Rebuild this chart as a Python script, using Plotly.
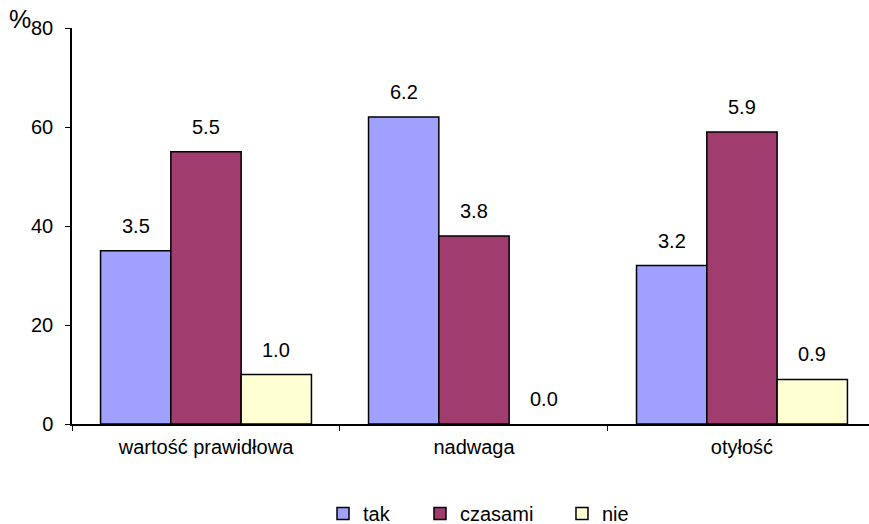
import plotly.graph_objects as go

# Categories (BMI groups) and the share of answers, as printed above each bar
categories = ["wartość prawidłowa", "nadwaga", "otyłość"]
series_names = ["tak", "czasami", "nie"]
tak = [3.5, 6.2, 3.2]
czasami = [5.5, 3.8, 5.9]
nie = [1.0, 0.0, 0.9]
y_ticks = [0, 20, 40, 60, 80]

# printed values are in tens of percent on the axis
SCALE = 10

colors = ["#A0A0FF", "#A03C6E", "#FFFFD4"]
font_family = "Arial, Liberation Sans, sans-serif"
FS = 20
BARGAP = 0.213

fig = go.Figure()
all_series = [tak, czasami, nie]
legend_ids = ["legend", "legend2", "legend3"]
for name, vals, col, lg in zip(series_names, all_series, colors, legend_ids):
    fig.add_trace(go.Bar(
        x=categories,
        y=[v * SCALE for v in vals],
        name=name,
        # empty bars get no outline
        marker=dict(color=col, line=dict(color="black",
                                         width=[1.5 if v > 0 else 0 for v in vals])),
        legend=lg,
        showlegend=True,
    ))

# value labels above bars
annotations = []
slot = (1 - BARGAP) / len(all_series)
for i, vals in enumerate(all_series):
    for j, v in enumerate(vals):
        annotations.append(dict(
            x=j + (i - 1) * slot, y=v * SCALE, xref="x", yref="y",
            text=f"{v:.1f}", showarrow=False, yanchor="bottom", yshift=12,
            font=dict(family=font_family, size=FS, color="black"),
        ))

annotations.append(dict(
    x=-0.065, y=1.022, xref="paper", yref="paper", text="%", showarrow=False,
    xanchor="center", yanchor="middle",
    font=dict(family=font_family, size=25, color="black"),
))

legend_common = dict(orientation="h", yref="container", yanchor="middle", y=0.02,
                     xref="container", xanchor="left",
                     bgcolor="rgba(0,0,0,0)",
                     font=dict(family=font_family, size=FS, color="black"))

fig.update_layout(
    width=869, height=524,
    margin=dict(l=72, r=0, t=28, b=100),
    paper_bgcolor="white", plot_bgcolor="white",
    barmode="group", bargap=BARGAP, bargroupgap=0,
    font=dict(family=font_family, size=FS, color="black"),
    annotations=annotations,
    legend=dict(legend_common, x=0.3717),
    legend2=dict(legend_common, x=0.4833),
    legend3=dict(legend_common, x=0.6467),
    xaxis=dict(
        range=[-0.5, 2.474], showline=True, linecolor="black", linewidth=1.5,
        ticks="outside", tickson="boundaries", ticklen=5, tickcolor="black",
        showgrid=False, ticklabelstandoff=4,
        tickfont=dict(family=font_family, size=FS, color="black"),
    ),
    yaxis=dict(
        range=[0, 80], tickvals=y_ticks, showline=True, linecolor="black",
        linewidth=1.5, ticks="outside", ticklen=5, tickcolor="black",
        showgrid=False, zeroline=False, ticklabelstandoff=8,
        tickfont=dict(family=font_family, size=FS, color="black"),
    ),
)

fig.write_html("out.html")
